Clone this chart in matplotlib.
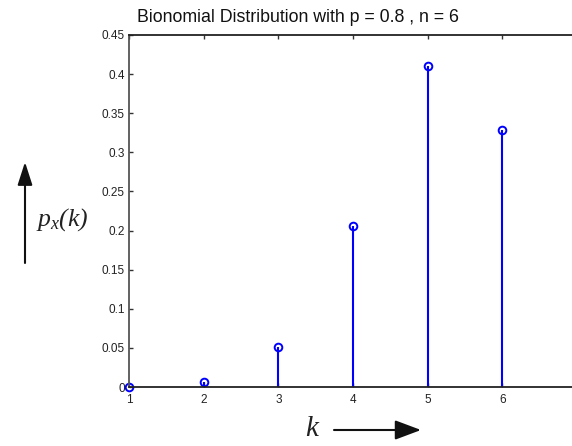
import numpy as np
import matplotlib
matplotlib.use("Agg")
import matplotlib.pyplot as plt

# Binomial probabilities p_x(k), p = 0.8, n = 6
k = [1, 2, 3, 4, 5, 6]
pk = [0.0003, 0.006, 0.051, 0.206, 0.411, 0.329]
yticks = [0, 0.05, 0.1, 0.15, 0.2, 0.25, 0.3, 0.35, 0.4, 0.45]
ytick_labels = ["0", "0.05", "0.1", "0.15", "0.2", "0.25", "0.3", "0.35", "0.4", "0.45"]
xticks = [1, 2, 3, 4, 5, 6]
xtick_labels = ["1", "2", "3", "4", "5", "6"]

plt.rcParams["mathtext.fontset"] = "custom"
plt.rcParams["mathtext.it"] = "Liberation Serif:italic"
plt.rcParams["mathtext.rm"] = "Liberation Serif:italic"

W, H = 572, 446
fig = plt.figure(figsize=(W / 100, H / 100), dpi=100)
ax = fig.add_axes([129 / W, 1 - 387 / H, (577 - 129) / W, (387 - 35) / H])

markerline, stemlines, baseline = ax.stem(k, pk, linefmt="-", markerfmt="o", basefmt=" ")
stemlines.set_color("#0000ff")
stemlines.set_linewidth(1.5)
markerline.set_markerfacecolor("none")
markerline.set_markeredgecolor("#0000ff")
markerline.set_markersize(5.5)
markerline.set_markeredgewidth(1.4)
markerline.set_clip_on(False)

ax.set_xlim(1, 7)
ax.set_ylim(0, 0.45)
ax.set_xticks(xticks)
ax.set_xticklabels(xtick_labels)
ax.set_yticks(yticks)
ax.set_yticklabels(ytick_labels)
ax.tick_params(direction="in", length=3, width=1.0, colors="#333333",
               labelsize=8.5, top=True, right=True, pad=3)
ax.tick_params(axis="x", pad=5)
for lab in ax.get_xticklabels() + ax.get_yticklabels():
    lab.set_fontfamily("Liberation Sans")
    lab.set_color("#222222")

for side in ["top", "bottom"]:
    ax.spines[side].set_color("#222222")
    ax.spines[side].set_linewidth(1.3)
    ax.spines[side].set_linestyle((0, (3, 1)))
for side in ["left", "right"]:
    ax.spines[side].set_color("#555555")
    ax.spines[side].set_linewidth(1.3)

fig.text(298 / W, 1 - 17 / H, "Bionomial Distribution with p = 0.8 , n = 6",
         ha="center", va="center", fontsize=12.8, family="Liberation Sans",
         color="#111111")

# Axis labels with arrows
fig.text(62 / W, 1 - 220 / H, r"$p_x(k)$", ha="center", va="center", fontsize=18.5,
         color="#222222")
fig.text(313 / W, 1 - 428 / H, r"$k$", ha="center", va="center", fontsize=21,
         color="#222222")

ax.annotate("", xy=(25 / W, 1 - 162 / H), xytext=(25 / W, 1 - 263 / H),
            xycoords="figure fraction", textcoords="figure fraction",
            arrowprops=dict(arrowstyle="-|>,head_length=1.4,head_width=0.45",
                            color="#111111", lw=1.5, shrinkA=0, shrinkB=0))
ax.annotate("", xy=(421 / W, 1 - 430 / H), xytext=(334 / W, 1 - 430 / H),
            xycoords="figure fraction", textcoords="figure fraction",
            arrowprops=dict(arrowstyle="-|>,head_length=1.6,head_width=0.6",
                            color="#111111", lw=1.5, shrinkA=0, shrinkB=0))

fig.savefig("out.png", dpi=100)
